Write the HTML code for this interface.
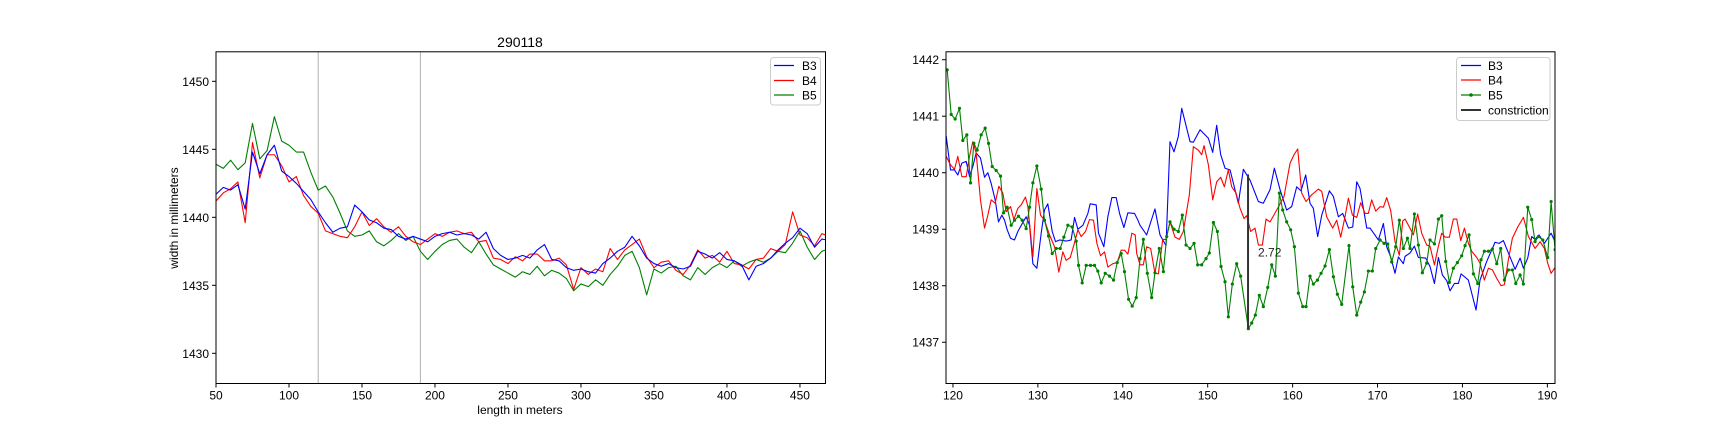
<!DOCTYPE html>
<html><head><meta charset="utf-8"><style>
html,body{margin:0;padding:0;background:#fff;}
svg{display:block;font-family:"Liberation Sans","DejaVu Sans",sans-serif;}
</style></head><body>
<svg id="fig" width="1728" height="432" viewBox="0 0 1728 432" xmlns="http://www.w3.org/2000/svg"></svg>
<script>
// ---------- LEFT CHART DATA ----------
const leftX = [];
for (let v = 50; v <= 470; v += 5) leftX.push(v);
const leftB3 = [1441.7,1442.2,1442.0,1442.4,1440.6,1444.8,1443.2,1444.6,1445.3,1443.4,1443.0,1442.5,1441.9,1441.3,1440.4,1439.6,1438.9,1439.2,1439.3,1440.9,1440.4,1439.8,1439.6,1439.2,1439.1,1438.6,1438.4,1438.6,1438.4,1438.2,1438.6,1438.8,1438.9,1438.7,1438.8,1438.7,1438.4,1438.9,1437.7,1437.2,1436.9,1437.0,1437.2,1437.0,1437.6,1438.0,1436.9,1436.8,1436.3,1436.1,1436.2,1436.0,1435.9,1436.6,1437.0,1437.5,1437.8,1438.6,1437.9,1437.0,1436.6,1436.4,1436.6,1436.3,1436.2,1436.4,1437.5,1437.3,1437.0,1437.4,1436.9,1436.8,1436.5,1435.4,1436.4,1436.6,1437.0,1437.6,1438.1,1438.5,1439.2,1438.8,1437.8,1438.4,1438.3];
const leftB4 = [1441.2,1441.8,1442.1,1442.6,1439.6,1445.5,1442.9,1444.6,1444.6,1443.8,1442.6,1443.0,1441.6,1440.8,1440.3,1439.0,1438.8,1438.6,1438.5,1439.3,1440.4,1439.4,1439.9,1439.3,1438.9,1439.3,1438.6,1438.2,1438.0,1438.4,1438.8,1438.6,1438.9,1439.0,1438.8,1438.9,1438.2,1438.3,1437.0,1436.9,1436.6,1437.1,1436.8,1437.3,1437.3,1436.8,1436.8,1437.0,1436.5,1434.7,1436.3,1435.8,1436.2,1436.0,1437.7,1436.9,1437.6,1438.0,1438.4,1437.1,1436.3,1436.7,1436.8,1436.1,1435.8,1436.5,1437.6,1437.0,1437.2,1436.7,1437.5,1436.6,1436.5,1436.2,1436.9,1437.0,1437.7,1437.5,1438.0,1440.4,1438.7,1438.5,1437.9,1438.8,1438.6];
const leftB5 = [1443.9,1443.6,1444.2,1443.5,1444.0,1446.9,1444.3,1444.9,1447.4,1445.6,1445.3,1444.8,1444.8,1443.3,1442.0,1442.3,1441.5,1440.3,1439.0,1438.6,1438.7,1439.0,1438.2,1437.9,1438.3,1438.8,1438.3,1438.6,1437.5,1436.9,1437.5,1438.0,1438.3,1438.4,1437.8,1437.4,1438.2,1437.3,1436.5,1436.2,1435.9,1435.6,1436.0,1435.8,1436.4,1435.7,1436.1,1435.9,1435.5,1434.6,1435.1,1434.9,1435.4,1435.0,1435.8,1436.4,1437.2,1437.5,1436.3,1434.3,1436.2,1435.9,1436.3,1436.4,1435.7,1435.4,1436.3,1435.8,1436.3,1436.6,1436.3,1436.8,1436.4,1436.7,1436.9,1436.7,1437.0,1437.5,1437.4,1438.1,1439.0,1437.8,1436.9,1437.5,1437.7];
const leftXTicks = [50,100,150,200,250,300,350,400,450];
const leftYTicks = [1430,1435,1440,1445,1450];
const leftVLines = [120,190];

// ---------- RIGHT CHART DATA ----------
const rB3x = [119.2,119.71,120.18,120.57,121.05,121.56,121.95,122.34,122.73,123.24,123.72,124.11,124.5,124.97,125.36,125.76,126.07,126.39,126.78,127.25,127.64,128.15,128.62,129.02,129.41,129.88,130.39,130.78,131.17,131.69,132.08,132.55,133.33,133.92,134.32,134.71,135.3,135.89,136.16,136.87,137.14,137.77,138.24,138.71,139.22,139.62,140.13,140.6,141.38,141.78,142.03,142.81,143.79,144.38,145.09,145.56,146.03,146.54,146.94,147.92,148.31,149.1,150.08,150.59,151.06,151.53,152.04,152.63,153.61,154.2,154.98,155.97,156.55,157.34,157.85,158.52,159.3,159.89,160.48,160.99,161.54,162.05,162.44,162.95,163.43,164.33,164.8,165.39,165.9,166.57,167.08,167.55,167.94,168.73,169.12,170.1,170.69,171.08,171.55,172.06,172.46,173.04,173.24,173.83,174.34,174.81,175.67,176.18,176.7,177.17,177.64,178.15,178.54,179.05,179.52,179.84,180.7,181.6,182.07,182.86,183.84,184.31,184.82,185.41,186.2,186.79,187.18,187.69,188.16,188.55,189.02,189.65,190.44,190.99];
const rB3y = [1440.65,1440.05,1440.05,1439.96,1440.17,1440.2,1439.93,1440.11,1440.35,1440.26,1439.92,1440.0,1439.81,1439.52,1439.13,1439.25,1439.16,1438.99,1438.84,1438.81,1438.96,1439.1,1439.22,1439.07,1438.39,1438.31,1438.93,1439.34,1439.45,1438.96,1438.78,1438.81,1438.79,1438.81,1439.21,1439.0,1439.07,1439.28,1439.45,1439.43,1438.93,1438.69,1439.22,1439.56,1439.56,1439.28,1439.03,1439.29,1439.28,1439.16,1439.07,1438.9,1439.36,1438.9,1438.71,1440.55,1440.37,1440.64,1441.14,1440.55,1440.54,1440.76,1440.61,1440.36,1440.84,1440.32,1440.08,1440.05,1439.46,1440.06,1439.87,1439.49,1439.46,1439.7,1440.08,1439.7,1439.34,1439.4,1439.75,1439.68,1439.96,1439.46,1439.37,1438.87,1439.25,1439.68,1439.58,1439.22,1439.28,1439.02,1439.04,1439.84,1439.72,1439.02,1439.02,1438.81,1439.1,1438.69,1438.51,1438.22,1438.51,1438.39,1438.52,1438.58,1438.7,1438.5,1438.49,1438.34,1438.04,1438.5,1438.19,1438.09,1437.91,1438.04,1438.04,1438.21,1438.1,1437.57,1438.1,1438.43,1438.77,1438.75,1438.8,1438.58,1438.29,1438.49,1438.31,1438.49,1438.87,1438.82,1438.9,1438.75,1438.93,1438.75];
const rB4x = [119.2,119.71,120.18,120.57,121.05,121.56,121.95,122.34,122.73,123.24,123.72,124.11,124.5,124.97,125.4,125.87,126.27,126.78,127.17,127.64,128.03,128.54,128.82,129.41,129.88,130.31,130.78,131.37,131.96,132.47,132.94,133.33,133.81,134.24,134.71,135.1,135.61,136.08,136.55,136.95,137.38,137.85,138.24,138.83,139.34,139.81,140.2,140.6,141.07,141.46,141.64,142.03,142.42,142.81,143.28,143.79,144.19,144.7,145.09,145.56,146.15,146.66,147.13,147.84,148.31,148.9,149.29,149.57,150.08,150.59,151.06,151.53,151.96,152.43,152.83,153.34,153.81,154.28,154.59,155.06,155.57,155.97,156.44,156.87,157.34,158.13,158.99,159.7,160.17,160.6,161.07,161.58,162.25,163.03,163.43,164.01,164.72,165.19,165.66,166.17,166.57,167.04,167.55,168.02,168.53,168.92,169.31,169.79,170.3,170.69,171.08,171.55,172.06,172.57,172.97,173.24,173.71,174.22,174.73,175.2,175.79,176.18,176.7,177.17,177.56,177.95,178.46,178.93,179.33,179.8,180.23,180.7,181.09,181.68,182.07,182.58,183.06,183.53,184.04,184.55,184.94,185.41,185.88,186.51,187.18,187.77,188.55,189.14,189.65,190.04,190.44,190.99];
const rB4y = [1440.29,1440.14,1440.06,1440.29,1439.93,1439.93,1440.29,1440.55,1440.35,1439.52,1439.02,1439.25,1439.52,1439.46,1439.76,1439.64,1439.31,1439.4,1439.17,1439.37,1439.43,1439.57,1439.4,1438.51,1439.72,1439.25,1439.16,1438.9,1438.69,1438.24,1438.6,1438.45,1438.5,1438.72,1438.99,1438.87,1438.96,1439.17,1439.16,1438.75,1438.53,1438.6,1438.33,1438.39,1438.41,1438.63,1438.63,1438.56,1438.93,1438.9,1438.57,1438.37,1438.37,1438.69,1438.66,1438.22,1438.21,1438.82,1438.82,1439.13,1438.86,1438.82,1438.96,1439.61,1440.46,1440.4,1440.32,1440.48,1440.14,1439.52,1439.84,1439.92,1439.75,1440.05,1439.75,1439.64,1439.37,1439.19,1439.24,1438.96,1439.02,1438.72,1438.72,1439.18,1439.13,1439.34,1439.58,1440.17,1440.32,1440.42,1439.64,1439.49,1439.61,1439.71,1439.67,1439.22,1439.02,1439.16,1438.86,1439.22,1439.55,1439.25,1439.21,1439.47,1439.28,1439.28,1439.52,1439.32,1439.4,1439.39,1439.56,1439.33,1438.78,1438.54,1439.15,1439.18,1439.05,1438.9,1439.27,1438.93,1438.72,1438.7,1438.37,1438.7,1438.93,1438.86,1438.86,1439.18,1439.18,1438.8,1439.02,1438.75,1438.61,1438.5,1438.4,1438.1,1438.31,1438.28,1438.13,1438.0,1438.02,1438.46,1438.84,1439.04,1439.21,1438.87,1438.66,1438.78,1438.66,1438.4,1438.22,1438.34];
const rB5x = [119.32,119.79,120.26,120.77,121.16,121.63,122.07,122.46,122.85,123.32,123.79,124.19,124.62,125.09,125.6,125.95,126.38,126.86,127.25,127.72,128.15,128.62,129.02,129.41,129.88,130.39,130.78,131.25,131.69,132.16,132.63,133.06,133.53,134.04,134.51,134.79,135.22,135.69,136.2,136.67,137.06,137.46,137.93,138.44,138.91,139.34,139.81,140.2,140.68,141.11,141.58,142.03,142.42,142.89,143.4,143.79,144.3,144.78,145.17,145.56,146.03,146.54,147.01,147.45,147.92,148.39,148.82,149.29,149.8,150.19,150.67,151.14,151.57,152.04,152.43,152.9,153.41,153.88,154.79,155.18,155.61,156.08,156.55,157.07,157.54,157.97,158.44,158.83,159.3,159.77,160.21,160.68,161.19,161.58,162.05,162.44,162.92,163.35,163.82,164.33,164.8,165.27,165.78,166.64,167.08,167.55,168.02,168.45,168.92,169.39,169.79,170.3,170.77,171.2,171.67,172.14,172.57,173.04,173.52,173.83,174.34,174.81,175.28,175.79,176.18,176.7,177.17,177.56,178.03,178.46,178.93,179.4,179.91,180.31,180.78,181.29,181.8,182.19,182.58,183.06,183.53,184.04,184.51,184.94,185.41,185.88,186.28,186.79,187.18,187.69,188.16,188.55,188.95,189.46,190.04,190.44,190.91];
const rB5y = [1441.82,1441.03,1440.95,1441.14,1440.57,1440.67,1439.82,1440.52,1440.4,1440.67,1440.79,1440.52,1440.11,1440.04,1439.94,1439.29,1439.39,1439.07,1439.16,1439.23,1439.16,1439.01,1439.39,1439.82,1440.12,1439.71,1439.16,1438.88,1438.57,1438.66,1438.66,1438.86,1439.07,1439.04,1438.79,1438.36,1438.05,1438.36,1438.36,1438.36,1438.26,1438.05,1438.22,1438.17,1438.1,1438.41,1438.57,1438.25,1437.76,1437.64,1437.79,1438.48,1438.82,1438.22,1437.79,1438.23,1438.66,1438.25,1438.87,1439.13,1439.0,1438.96,1439.25,1438.72,1438.66,1438.75,1438.37,1438.37,1438.48,1438.58,1439.12,1438.96,1438.34,1438.07,1437.45,1438.03,1438.39,1438.17,1437.24,1437.34,1437.48,1437.83,1437.63,1437.97,1438.37,1438.17,1439.64,1439.34,1439.13,1438.99,1438.69,1437.87,1437.63,1437.63,1438.17,1438.03,1438.1,1438.22,1438.35,1438.64,1438.16,1437.85,1437.67,1438.71,1437.98,1437.48,1437.71,1437.89,1438.26,1438.26,1438.66,1438.81,1438.75,1438.74,1438.42,1438.69,1439.16,1438.66,1438.84,1438.66,1439.27,1438.72,1438.23,1438.4,1438.81,1438.74,1439.18,1439.24,1438.43,1438.06,1438.31,1438.41,1438.53,1438.71,1438.9,1438.21,1438.04,1438.46,1438.61,1438.61,1438.65,1438.39,1438.66,1438.1,1438.28,1438.28,1438.04,1438.19,1438.03,1439.39,1439.17,1438.78,1438.87,1438.81,1438.5,1439.49,1438.64];
const constrictionX = [154.75];
const constrictionY0 = [1437.24];
const constrictionY1 = [1439.97];
const constrictionLabel = ["2.72"];
const rightXTicks = [120,130,140,150,160,170,180,190];
const rightYTicks = [1437,1438,1439,1440,1441,1442];

// ---------- RENDER ----------
const NS = "http://www.w3.org/2000/svg";
const svg = document.getElementById("fig");
function mk(tag, attrs, parent) {
  const e = document.createElementNS(NS, tag);
  for (const k in attrs) e.setAttribute(k, attrs[k]);
  (parent || svg).appendChild(e);
  return e;
}
function axis(x0, x1, y0, y1, dx0, dx1, dy0, dy1) {
  return {
    sx: v => x0 + (v - dx0) / (dx1 - dx0) * (x1 - x0),
    sy: v => y1 - (v - dy0) / (dy1 - dy0) * (y1 - y0),
    x0, x1, y0, y1
  };
}
const L = axis(216, 825.5, 51.8, 383.5, 50, 467.5, 1427.78, 1452.17);
const R = axis(946, 1555, 51.8, 383.5, 119.18, 190.9, 1436.27, 1442.14);

const defs = mk("defs", {});
const cpL = mk("clipPath", {id: "clipL"}, defs);
mk("rect", {x: L.x0, y: L.y0, width: L.x1 - L.x0, height: L.y1 - L.y0}, cpL);
const cpR = mk("clipPath", {id: "clipR"}, defs);
mk("rect", {x: R.x0, y: R.y0, width: R.x1 - R.x0, height: R.y1 - R.y0}, cpR);

function drawTicks(A, xt, yt, prefix) {
  const g = mk("g", {});
  
  
  xt.forEach(v => {
    const x = A.sx(v);
    mk("line", {x1: x, x2: x, y1: A.y1, y2: A.y1 + 4, stroke: "#000", "stroke-width": 1}, g);
    const t = mk("text", {x: x, y: A.y1 + 16, "font-size": 12, "text-anchor": "middle", fill: "#000"}, g);
    t.textContent = v;
    
    
  });
  yt.forEach(v => {
    const y = A.sy(v);
    mk("line", {x1: A.x0 - 4, x2: A.x0, y1: y, y2: y, stroke: "#000", "stroke-width": 1}, g);
    const t = mk("text", {x: A.x0 - 7, y: y + 4.5, "font-size": 12, "text-anchor": "end", fill: "#000"}, g);
    t.textContent = v;
    
    
  });
}
function line(A, xs, ys, color, clip, name, w) {
  const d = xs.map((x, i) => (i ? "L" : "M") + A.sx(x).toFixed(2) + "," + A.sy(ys[i]).toFixed(2)).join("");
  const p = mk("path", {d: d, fill: "none", stroke: color, "stroke-width": w || 1.1, "stroke-linejoin": "round", "clip-path": "url(#" + clip + ")"});
  
  
  return p;
}

// Left chart
const lv = mk("g", {"clip-path": "url(#clipL)"});


leftVLines.forEach(v => {
  mk("line", {x1: L.sx(v), x2: L.sx(v), y1: L.y0, y2: L.y1, stroke: "#b0b0b0", "stroke-width": 1}, lv);
});
line(L, leftX, leftB5, "#008000", "clipL", "left-series-b5");
line(L, leftX, leftB4, "#ff0000", "clipL", "left-series-b4");
line(L, leftX, leftB3, "#0000ff", "clipL", "left-series-b3");
const fl = mk("rect", {x: L.x0, y: L.y0, width: L.x1 - L.x0, height: L.y1 - L.y0, fill: "none", stroke: "#000", "stroke-width": 1});


drawTicks(L, leftXTicks, leftYTicks, "left");

// Right chart
line(R, rB3x, rB3y, "#0000ff", "clipR", "right-series-b3");
line(R, rB4x, rB4y, "#ff0000", "clipR", "right-series-b4");
line(R, rB5x, rB5y, "#008000", "clipR", "right-series-b5");
const mg = mk("g", {"clip-path": "url(#clipR)"});


rB5x.forEach((x, i) => {
  mk("circle", {cx: R.sx(x), cy: R.sy(rB5y[i]), r: 1.6, fill: "#008000"}, mg);
});
constrictionX.forEach((x, i) => {
  const c = mk("line", {x1: R.sx(x), x2: R.sx(x), y1: R.sy(constrictionY0[i]), y2: R.sy(constrictionY1[i]), stroke: "#333", "stroke-width": 2});
  
  
  const t = mk("text", {x: R.sx(x) + 10, y: R.sy((constrictionY0[i] + constrictionY1[i]) / 2) + 5, "font-size": 12, fill: "#222"});
  t.textContent = constrictionLabel[i];
  
  
});
const fr = mk("rect", {x: R.x0, y: R.y0, width: R.x1 - R.x0, height: R.y1 - R.y0, fill: "none", stroke: "#000", "stroke-width": 1});


drawTicks(R, rightXTicks, rightYTicks, "right");
</script>
<div style="position:absolute;left:0;top:0;width:1728px;height:432px;pointer-events:none;">
<svg width="1728" height="432" style="font-family:'Liberation Sans','DejaVu Sans',sans-serif;">
  <text x="520" y="47" font-size="14" text-anchor="middle">290118</text>
  <text x="520" y="414" font-size="12" text-anchor="middle">length in meters</text>
  <text x="178" y="218" font-size="12" text-anchor="middle" transform="rotate(-90 178 218)">width in millimeters</text>
  <g>
    <rect x="770.5" y="57.5" width="50" height="47.5" rx="3" fill="#fff" fill-opacity="0.8" stroke="#ccc"/>
    <g><line x1="774" x2="794" y1="65.5" y2="65.5" stroke="#0000ff" stroke-width="1.2"/><text x="802" y="70" font-size="12">B3</text></g>
    <g><line x1="774" x2="794" y1="80.5" y2="80.5" stroke="#ff0000" stroke-width="1.2"/><text x="802" y="85" font-size="12">B4</text></g>
    <g><line x1="774" x2="794" y1="95" y2="95" stroke="#008000" stroke-width="1.2"/><text x="802" y="99.5" font-size="12">B5</text></g>
  </g>
  <g>
    <rect x="1456.5" y="57.5" width="93.5" height="63" rx="3" fill="#fff" fill-opacity="0.8" stroke="#ccc"/>
    <g><line x1="1461" x2="1481" y1="65.5" y2="65.5" stroke="#0000ff" stroke-width="1.2"/><text x="1488" y="70" font-size="12">B3</text></g>
    <g><line x1="1461" x2="1481" y1="80" y2="80" stroke="#ff0000" stroke-width="1.2"/><text x="1488" y="84.5" font-size="12">B4</text></g>
    <g><line x1="1461" x2="1481" y1="95" y2="95" stroke="#008000" stroke-width="1.2"/><circle cx="1471" cy="95" r="1.8" fill="#008000"/><text x="1488" y="99.5" font-size="12">B5</text></g>
    <g><line x1="1461" x2="1481" y1="110" y2="110" stroke="#333" stroke-width="2"/><text x="1488" y="114.5" font-size="12">constriction</text></g>
  </g>
</svg>
</div>
</body></html>
